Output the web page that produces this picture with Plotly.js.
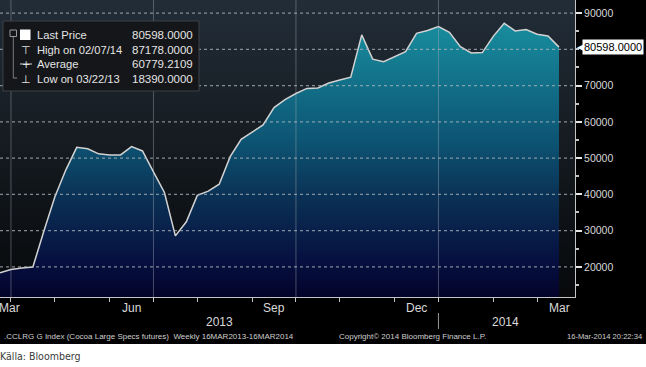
<!DOCTYPE html>
<html>
<head>
<meta charset="utf-8">
<script src="https://cdn.plot.ly/plotly-3.0.1.min.js"></script>
<style>
  html, body { margin:0; padding:0; background:#ffffff; overflow:hidden; }
  #wrap { position:relative; width:646px; height:367px; background:#ffffff; }
  #blackbg { position:absolute; left:0; top:0; width:646px; height:344px; background:#000000; }
  #plotbg { position:absolute; left:0; top:0; width:575px; height:297px;
            background:linear-gradient(to bottom, #222d38 0%, #161c22 45%, #07090b 100%); }
  #chart { position:absolute; left:0; top:0; width:646px; height:367px; }
</style>
</head>
<body>
<div id="wrap">
  <div id="blackbg"></div>
  <div id="plotbg"></div>
  <div id="chart"></div>
</div>
<script>
// Weekly dates (Fridays)
const dates = [
  '2013-03-22','2013-03-29','2013-04-05','2013-04-12','2013-04-19','2013-04-26',
  '2013-05-03','2013-05-10','2013-05-17','2013-05-24','2013-05-31','2013-06-07',
  '2013-06-14','2013-06-21','2013-06-28','2013-07-05','2013-07-12','2013-07-19',
  '2013-07-26','2013-08-02','2013-08-09','2013-08-16','2013-08-23','2013-08-30',
  '2013-09-06','2013-09-13','2013-09-20','2013-09-27','2013-10-04','2013-10-11',
  '2013-10-18','2013-10-25','2013-11-01','2013-11-08','2013-11-15','2013-11-22',
  '2013-11-29','2013-12-06','2013-12-13','2013-12-20','2013-12-27','2014-01-03',
  '2014-01-10','2014-01-17','2014-01-24','2014-01-31','2014-02-07','2014-02-14',
  '2014-02-21','2014-02-28','2014-03-07','2014-03-14'
];
// Last price
const prices = [
  18390, 19270, 19670, 19960, 29840, 39260,
  46690, 52970, 52570, 51170, 50870, 50870,
  53170, 51970, 46190, 40510, 28540, 32430,
  39710, 40900, 42800, 50380, 55160, 57250,
  59150, 63930, 66130, 67820, 69220, 69320,
  70710, 71510, 72310, 83970, 77290, 76590,
  77890, 79380, 84420, 85170, 86260, 84670,
  80730, 78990, 79090, 83570, 87178, 85070,
  85470, 84170, 83670, 80598
];
// Axis ticks and labels
const monthTickDates = ['2013-03-29','2013-04-26','2013-05-31','2013-06-28','2013-07-26','2013-08-30',
                        '2013-09-27','2013-10-25','2013-11-29','2013-12-27','2014-01-31','2014-02-28'];
const gridDates = ['2013-03-29','2013-06-28','2013-09-27','2013-12-27'];
const monthLabelDates = ['2013-03-28','2013-06-14','2013-09-13','2013-12-13','2014-03-14'];
const monthLabels = ['Mar','Jun','Sep','Dec','Mar'];
const yearLabelDates = ['2013-08-09','2014-02-08'];
const yearLabels = ['2013','2014'];
const yearSeparatorDate = '2013-12-27';
const yGrid = [20000,30000,40000,50000,60000,70000,80000,90000];
const yLabelTicks = [20000,30000,40000,50000,60000,70000,90000];
const lastPrice = 80598;
const lastPriceText = '80598.0000';
// Legend contents
const legendLabels = ['Last Price','High on 02/07/14','Average','Low on 03/22/13'];
const legendValues = ['80598.0000','87178.0000','60779.2109','18390.0000'];
const footerLeft = '.CCLRG G Index (Cocoa Large Specs futures)  Weekly 16MAR2013-16MAR2014';
const footerMid = 'Copyright\u00A9 2014 Bloomberg Finance L.P.';
const footerRight = '16-Mar-2014 20:22:34';
const sourceText = 'K\u00E4lla: Bloomberg';

const YMIN = 11690, YMAX = 93600;
const FONT = '"Liberation Sans", Arial, sans-serif';
const NARROW = '"Liberation Sans Narrow", "DejaVu Sans Condensed", "Liberation Sans", Arial, sans-serif';

const trace = {
  x: dates, y: prices, type: 'scatter', mode: 'lines',
  line: {color: '#d2d2d2', width: 1.5},
  fill: 'tozeroy',
  fillgradient: {
    type: 'vertical', start: YMIN, stop: YMAX,
    colorscale: [[0,'#03032a'],[0.12,'#061040'],[0.33,'#0a3054'],[0.53,'#0d5574'],[0.9,'#178a9c'],[1,'#1a98a9']]
  },
  hoverinfo: 'skip'
};

const PW = 575, PH = 297;
const px = v => v / PW;
const py = v => (PH - v) / PH;

const shapes = [];
yGrid.forEach(t => shapes.push({type:'line', xref:'paper', yref:'y', x0:0, x1:1, y0:t, y1:t,
  line:{color:'rgba(170,178,186,0.75)', width:1.2, dash:'dot'}, layer:'above'}));
gridDates.forEach(d => shapes.push({type:'line', xref:'x', yref:'paper', x0:d, x1:d, y0:0, y1:1,
  line:{color:'rgba(170,178,186,0.4)', width:1}, layer:'above'}));
// legend box
shapes.push({type:'rect', xref:'paper', yref:'paper', x0:px(3), x1:px(199), y0:py(91), y1:py(21),
  fillcolor:'#141619', line:{color:'#3d4146', width:1}, layer:'above'});
// legend tree
shapes.push({type:'rect', xref:'paper', yref:'paper', x0:px(10), x1:px(16.5), y0:py(36.5), y1:py(30),
  fillcolor:'rgba(0,0,0,0)', line:{color:'#9a9a9a', width:1}, layer:'above'});
shapes.push({type:'line', xref:'paper', yref:'paper', x0:px(13.3), x1:px(13.3), y0:py(37), y1:py(78),
  line:{color:'#7a7a7a', width:1}, layer:'above'});
shapes.push({type:'line', xref:'paper', yref:'paper', x0:px(13.3), x1:px(17), y0:py(78), y1:py(78),
  line:{color:'#8a8a8a', width:1}, layer:'above'});
shapes.push({type:'rect', xref:'paper', yref:'paper', x0:px(20), x1:px(30.5), y0:py(40), y1:py(29.5),
  fillcolor:'#ffffff', line:{color:'#ffffff', width:0}, layer:'above'});
shapes.push({type:'line', xref:'paper', yref:'paper', x0:px(20), x1:px(32), y0:py(64), y1:py(64),
  line:{color:'#dcdcdc', width:1}, layer:'above'});
// year separator
shapes.push({type:'line', xref:'x', yref:'paper', x0:yearSeparatorDate, x1:yearSeparatorDate,
  y0:py(313), y1:py(329), line:{color:'#9a9a9a', width:1}});

const annotations = [];
monthLabels.forEach((m,i) => annotations.push({xref:'x', yref:'paper', x:monthLabelDates[i], y:py(308),
  text:m, showarrow:false, xanchor:'center', yanchor:'middle', font:{family:FONT, size:12, color:'#dadada'}}));
yearLabels.forEach((m,i) => annotations.push({xref:'x', yref:'paper', x:yearLabelDates[i], y:py(322),
  text:m, showarrow:false, xanchor:'center', yanchor:'middle', font:{family:FONT, size:12, color:'#dadada'}}));
annotations.push({xref:'paper', yref:'paper', x:px(2), y:py(336), text:footerLeft, showarrow:false,
  xanchor:'left', yanchor:'middle', font:{family:FONT, size:8, color:'#cfcfcf'}});
annotations.push({xref:'paper', yref:'paper', x:px(337), y:py(336), text:footerMid, showarrow:false,
  xanchor:'left', yanchor:'middle', font:{family:FONT, size:8, color:'#cfcfcf'}});
annotations.push({xref:'paper', yref:'paper', x:px(644), y:py(336), text:footerRight, showarrow:false,
  xanchor:'right', yanchor:'middle', font:{family:FONT, size:7.6, color:'#cfcfcf'}});
annotations.push({xref:'paper', yref:'paper', x:0, y:py(356), text:sourceText, showarrow:false,
  xanchor:'left', yanchor:'middle', xshift:-2, font:{family:NARROW, size:10.5, color:'#3a3a3a'}});
const rowY = [35, 50, 64, 79];
legendLabels.forEach((l,i) => {
  annotations.push({xref:'paper', yref:'paper', x:px(35), y:py(rowY[i]), text:l, showarrow:false,
    xanchor:'left', yanchor:'middle', font:{family:FONT, size:11.2, color:'#e4e4e4'}});
  annotations.push({xref:'paper', yref:'paper', x:px(195), y:py(rowY[i]), text:legendValues[i], showarrow:false,
    xanchor:'right', yanchor:'middle', font:{family:FONT, size:11.5, color:'#e4e4e4'}});
});
annotations.push({xref:'paper', yref:'paper', x:px(26), y:py(50), text:'\u22A4', showarrow:false,
  xanchor:'center', yanchor:'middle', font:{family:'DejaVu Sans', size:11, color:'#e4e4e4'}});
annotations.push({xref:'paper', yref:'paper', x:px(26), y:py(64), text:'+', showarrow:false,
  xanchor:'center', yanchor:'middle', font:{family:'DejaVu Sans', size:10, color:'#e4e4e4'}});
annotations.push({xref:'paper', yref:'paper', x:px(26), y:py(79), text:'\u22A5', showarrow:false,
  xanchor:'center', yanchor:'middle', font:{family:'DejaVu Sans', size:11, color:'#e4e4e4'}});
// last price tag: pointer + white box
annotations.push({xref:'paper', yref:'y', x:1, y:lastPrice, text:'\u25C0', showarrow:false,
  xanchor:'left', yanchor:'middle', xshift:0, font:{family:'DejaVu Sans', size:9, color:'#ffffff'}});
annotations.push({xref:'paper', yref:'y', x:1, y:lastPrice, text:lastPriceText, showarrow:false,
  xanchor:'left', yanchor:'middle', xshift:7, bgcolor:'#ffffff', borderpad:1,
  font:{family:FONT, size:11, color:'#000000'}});

const layout = {
  width: 646, height: 367,
  margin: {l:0, r:71, t:0, b:70, pad:0},
  paper_bgcolor: 'rgba(0,0,0,0)',
  plot_bgcolor: 'rgba(0,0,0,0)',
  showlegend: false,
  xaxis: {
    type:'date', range:['2013-03-22', '2014-03-24 05:00'],
    showgrid:false, zeroline:false, showline:true, linecolor:'#c4c4c4', linewidth:1,
    ticks:'outside', ticklen:4, tickcolor:'#c4c4c4', tickwidth:1,
    tickmode:'array', tickvals: monthTickDates, showticklabels:false, fixedrange:true
  },
  yaxis: {
    side:'right', range:[YMIN, YMAX], showgrid:false, zeroline:false,
    showline:true, linecolor:'#c4c4c4', linewidth:1,
    tickmode:'array', tickvals: yLabelTicks, tickformat:'d',
    ticks:'outside', ticklen:6, tickwidth:2, tickcolor:'#e6e6e6',
    tickfont:{family:FONT, size:10.5, color:'#d8d8d8'},
    minor:{tickmode:'linear', dtick:5000, tick0:0, ticks:'outside', ticklen:3, tickcolor:'#c4c4c4', showgrid:false},
    fixedrange:true
  },
  shapes: shapes,
  annotations: annotations
};

Plotly.newPlot('chart', [trace], layout, {displayModeBar:false, staticPlot:true});
</script>
</body>
</html>
